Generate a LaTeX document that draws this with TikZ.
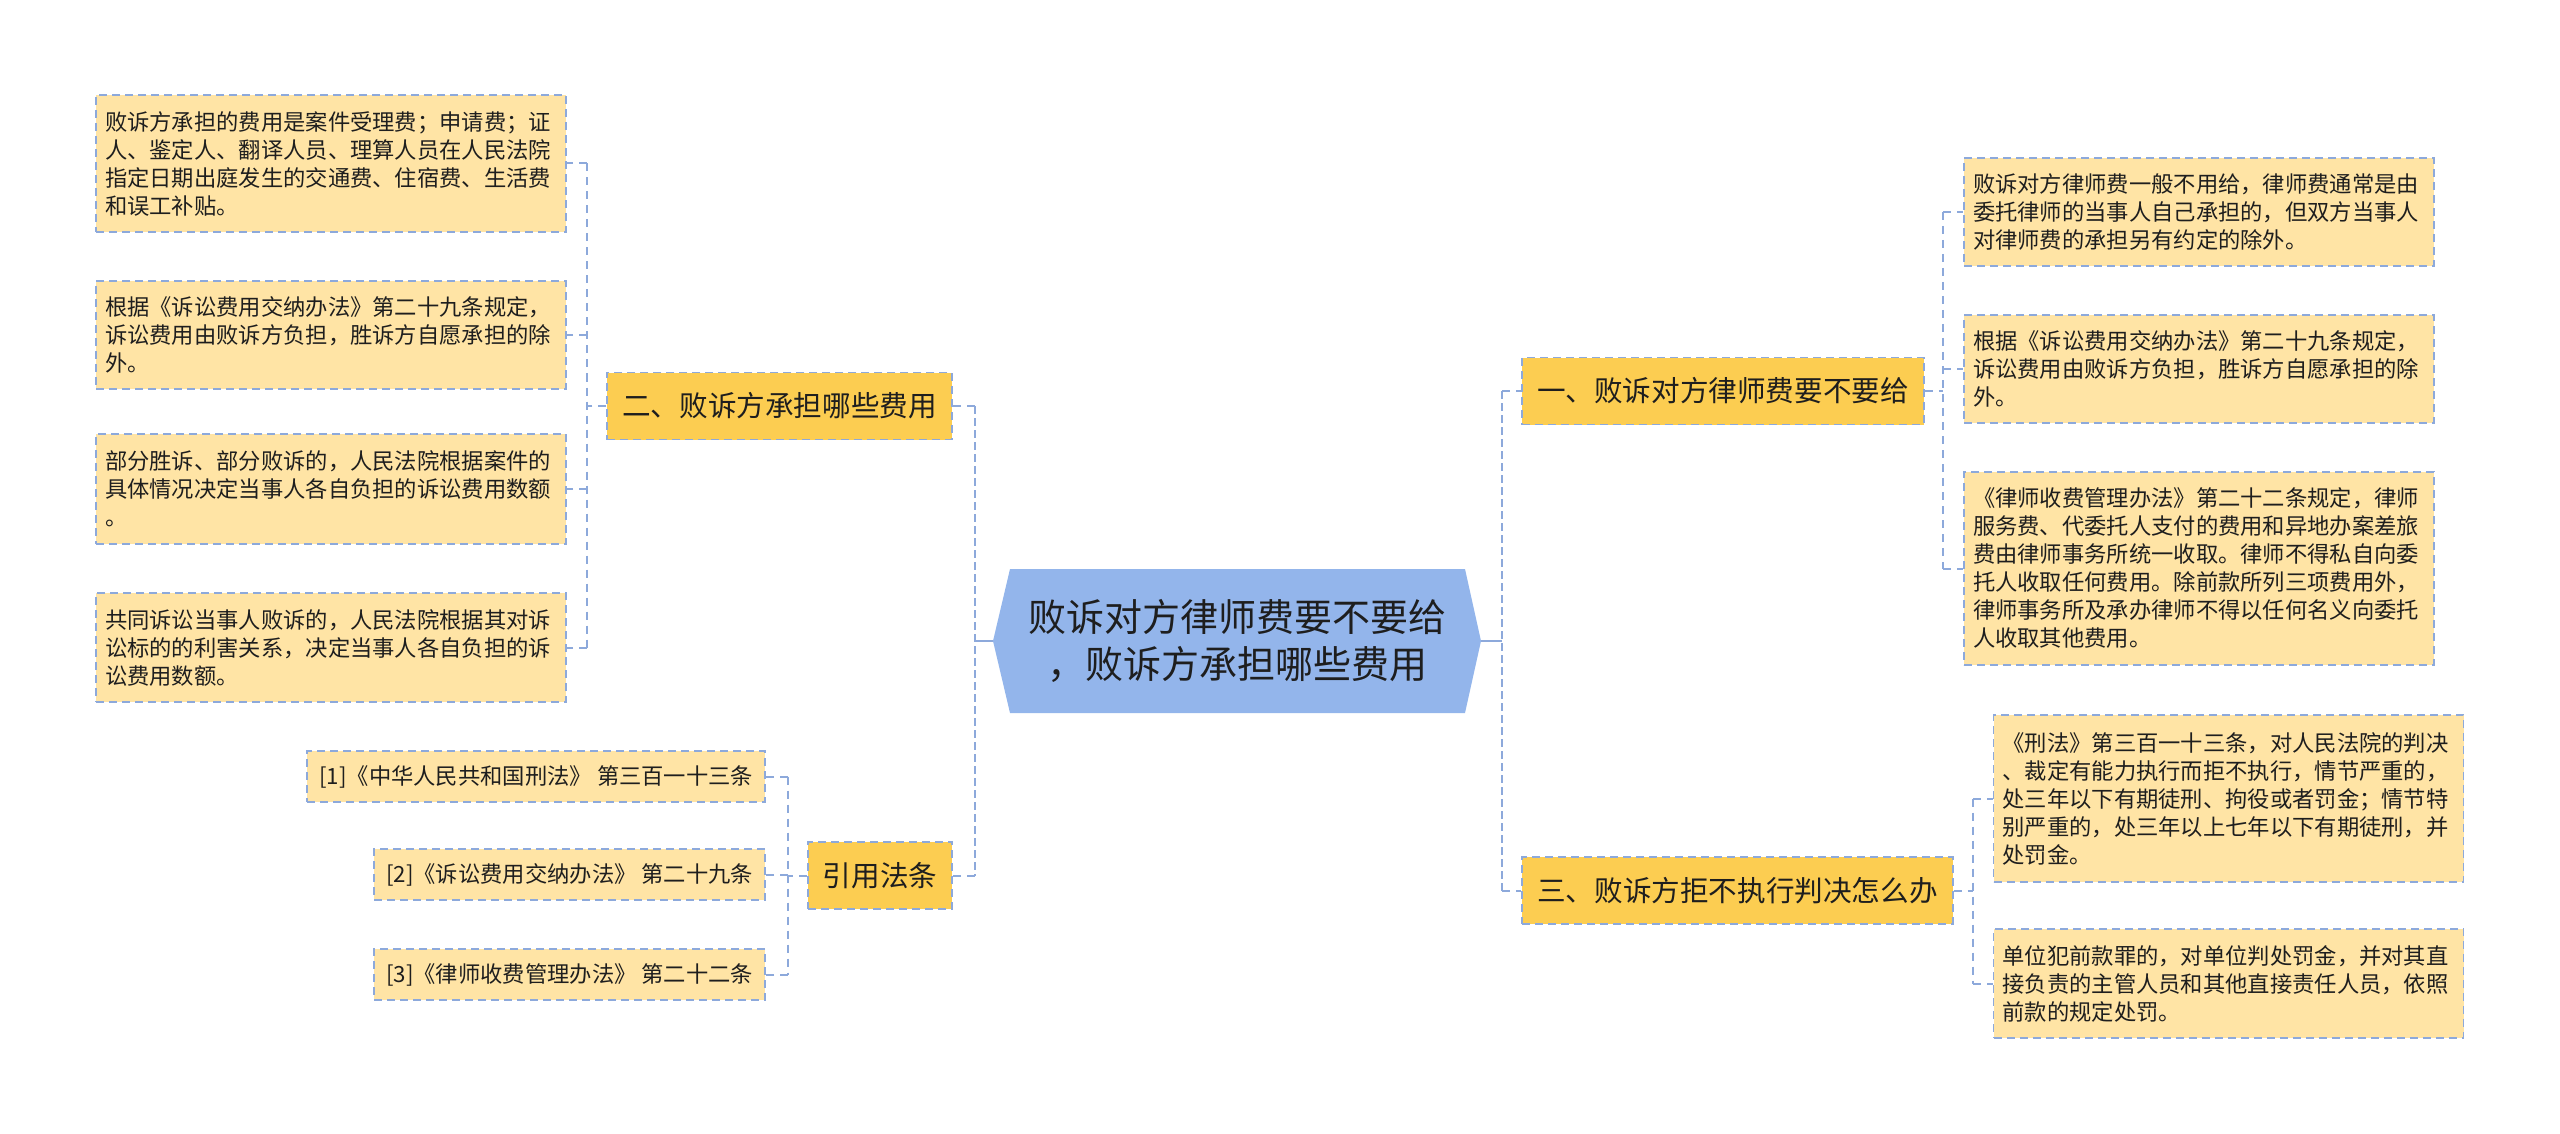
\documentclass[tikz,border=0pt]{standalone}
\usepackage{fontspec}
\setmainfont{Noto Sans CJK SC}
\usetikzlibrary{calc}
\definecolor{lvl}{HTML}{FCCD51}
\definecolor{leaffill}{HTML}{FFE4A5}
\definecolor{edge}{HTML}{8DA9DB}
\definecolor{ctr}{HTML}{93B5EB}
\definecolor{txt}{HTML}{1E1E1E}
\begin{document}
\begin{tikzpicture}[x=0.5pt,y=-0.5pt,
  conn/.style={draw=edge, line width=1pt, dash pattern=on 4pt off 3pt},
  mainconn/.style={draw=edge, line width=1.4pt, dash pattern=on 4pt off 2pt},
  solidconn/.style={draw=edge, line width=1.4pt},
  boxline/.style={draw=edge, line width=0.9pt, dash pattern=on 4pt off 2.5pt},
  lvlbox/.style={boxline, fill=lvl, text=txt, font=\fontsize{14.3pt}{17pt}\selectfont, minimum height=33.5pt, inner xsep=7.5pt, inner ysep=0pt},
  leafbox/.style={boxline, fill=leaffill, text=txt, font=\fontsize{11.15pt}{14pt}\selectfont, align=left, text width=226pt, inner xsep=4.5pt, inner ysep=0pt},
  citebox/.style={boxline, fill=leaffill, text=txt, font=\fontsize{11.15pt}{14pt}\selectfont, minimum height=25.5pt, inner xsep=6pt, inner ysep=0pt, anchor=east},
  ctrtext/.style={text=txt, font=\fontsize{19pt}{23.5pt}\selectfont, align=center, inner sep=0pt}
]
\useasboundingbox (0,0) rectangle (2560,1134);

% centre
\fill[ctr] (993,641) -- (1010,569) -- (1465,569) -- (1481,641) -- (1465,713) -- (1010,713) -- cycle;
\coordinate (cL) at (993,641);
\coordinate (cR) at (1481,641);
\node[ctrtext] (c) at (1237,641) {败诉对方律师费要不要给\\，败诉方承担哪些费用};

% level 1
\node[lvlbox] (A) at (1723,391) {一、败诉对方律师费要不要给};
\node[lvlbox] (C) at (1737.5,890.5) {三、败诉方拒不执行判决怎么办};
\node[lvlbox] (B) at (779.5,406) {二、败诉方承担哪些费用};
\node[lvlbox] (D) at (880,875.5) {引用法条};

% left leaves
\node[leafbox, minimum height=68.5pt] (L1) at (331,163.5) {败诉方承担的费用是案件受理费；申请费；证\\人、鉴定人、翻译人员、理算人员在人民法院\\指定日期出庭发生的交通费、住宿费、生活费\\和误工补贴。};
\node[leafbox, minimum height=54pt] (L2) at (331,335) {根据《诉讼费用交纳办法》第二十九条规定，\\诉讼费用由败诉方负担，胜诉方自愿承担的除\\外。};
\node[leafbox, minimum height=55pt] (L3) at (331,489) {部分胜诉、部分败诉的，人民法院根据案件的\\具体情况决定当事人各自负担的诉讼费用数额\\。};
\node[leafbox, minimum height=54.5pt] (L4) at (331,647.5) {共同诉讼当事人败诉的，人民法院根据其对诉\\讼标的的利害关系，决定当事人各自负担的诉\\讼费用数额。};

% citations
\node[citebox] (K1) at (766,776.5) {[1]《中华人民共和国刑法》 第三百一十三条};
\node[citebox] (K2) at (766,874.5) {[2]《诉讼费用交纳办法》 第二十九条};
\node[citebox] (K3) at (766,974.5) {[3]《律师收费管理办法》 第二十二条};

% right leaves
\node[leafbox, minimum height=54pt] (R1) at (2199,212) {败诉对方律师费一般不用给，律师费通常是由\\委托律师的当事人自己承担的，但双方当事人\\对律师费的承担另有约定的除外。};
\node[leafbox, minimum height=54pt] (R2) at (2199,369) {根据《诉讼费用交纳办法》第二十九条规定，\\诉讼费用由败诉方负担，胜诉方自愿承担的除\\外。};
\node[leafbox, minimum height=96.5pt] (R3) at (2199,568.5) {《律师收费管理办法》第二十二条规定，律师\\服务费、代委托人支付的费用和异地办案差旅\\费由律师事务所统一收取。律师不得私自向委\\托人收取任何费用。除前款所列三项费用外，\\律师事务所及承办律师不得以任何名义向委托\\人收取其他费用。};
\node[leafbox, minimum height=83.5pt] (R4) at (2228.5,798.5) {《刑法》第三百一十三条，对人民法院的判决\\、裁定有能力执行而拒不执行，情节严重的，\\处三年以下有期徒刑、拘役或者罚金；情节特\\别严重的，处三年以上七年以下有期徒刑，并\\处罚金。};
\node[leafbox, minimum height=54.5pt] (R5) at (2228.5,983.5) {单位犯前款罪的，对单位判处罚金，并对其直\\接负责的主管人员和其他直接责任人员，依照\\前款的规定处罚。};

% spine coordinates
\coordinate (sL) at (975,641);
\coordinate (sR) at (1502,641);
\coordinate (sA) at (1943,391);
\coordinate (sC) at (1973,890.5);
\coordinate (sB) at (587,406);
\coordinate (sD) at (788,875.5);

% centre connectors
\draw[solidconn] (cL) -- (sL);
\draw[mainconn] (sL |- B.east) -- (sL |- D.east);
\draw[conn] (sL |- B.east) -- (B.east);
\draw[conn] (sL |- D.east) -- (D.east);
\draw[solidconn] (cR) -- (sR);
\draw[mainconn] (sR |- A.west) -- (sR |- C.west);
\draw[conn] (sR |- A.west) -- (A.west);
\draw[conn] (sR |- C.west) -- (C.west);

% A children
\draw[conn] (A.east) -- (sA);
\draw[conn] (sA |- R1.west) -- (sA |- R3.west);
\draw[conn] (sA |- R1.west) -- (R1.west);
\draw[conn] (sA |- R2.west) -- (R2.west);
\draw[conn] (sA |- R3.west) -- (R3.west);

% C children
\draw[conn] (C.east) -- (sC);
\draw[conn] (sC |- R4.west) -- (sC |- R5.west);
\draw[conn] (sC |- R4.west) -- (R4.west);
\draw[conn] (sC |- R5.west) -- (R5.west);

% B children
\draw[conn] (B.west) -- (sB);
\draw[conn] (sB |- L1.east) -- (sB |- L4.east);
\draw[conn] (sB |- L1.east) -- (L1.east);
\draw[conn] (sB |- L2.east) -- (L2.east);
\draw[conn] (sB |- L3.east) -- (L3.east);
\draw[conn] (sB |- L4.east) -- (L4.east);

% D children
\draw[conn] (D.west) -- (sD);
\draw[conn] (sD |- K1.east) -- (sD |- K3.east);
\draw[conn] (sD |- K1.east) -- (K1.east);
\draw[conn] (sD |- K2.east) -- (K2.east);
\draw[conn] (sD |- K3.east) -- (K3.east);
\end{tikzpicture}
\end{document}
